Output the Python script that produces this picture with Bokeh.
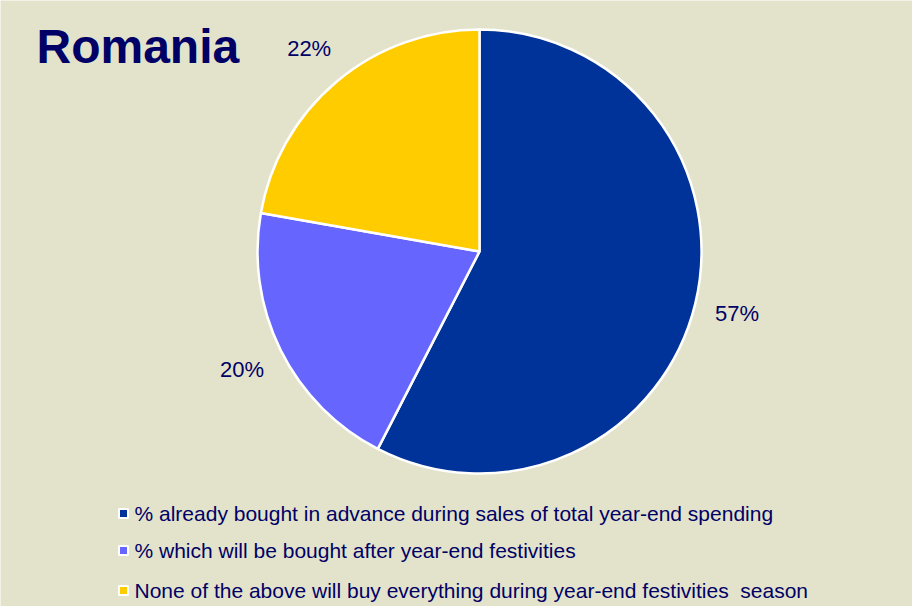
import math
from bokeh.plotting import figure
from bokeh.models import Range1d, ColumnDataSource
from bokeh.core.properties import value
from bokeh.embed import file_html
from bokeh.resources import INLINE

title = "Romania"
categories = [
    "% already bought in advance during sales of total year-end spending",
    "% which will be bought after year-end festivities",
    "None of the above will buy everything during year-end festivities\u00a0 season",
]
values = [57, 20, 22]
labels = ["57%", "20%", "22%"]
colors = ["#003399", "#6666FF", "#FFCC00"]

W, H = 912, 606
BG = "#E3E3CB"
TXT = "#000066"

p = figure(width=W, height=H, output_backend="svg", toolbar_location=None,
           x_range=Range1d(0, W), y_range=Range1d(0, H), min_border=0,
           background_fill_color=BG, border_fill_color=BG, outline_line_color=None)
p.axis.visible = False
p.grid.visible = False

# page coords -> data coords (figure at page offset 8,8)
def px(x):
    return x - 8
def py(y):
    return H - (y - 8)

cx, cy, r = px(487), py(259), 222
total = sum(values)
starts, ends, mids = [], [], []
cum = 0
for v in values:
    a0 = math.pi / 2 - 2 * math.pi * cum / total
    cum += v
    a1 = math.pi / 2 - 2 * math.pi * cum / total
    starts.append(a0)
    ends.append(a1)
    mids.append((a0 + a1) / 2)

src = ColumnDataSource(dict(start=starts, end=ends, color=colors))
p.wedge(x=cx, y=cy, radius=r, start_angle="start", end_angle="end",
        direction="clock", fill_color="color", line_color="white",
        line_width=2.5, source=src)

lr = 265
lx = [cx + lr * math.cos(m) for m in mids]
ly = [cy + lr * math.sin(m) for m in mids]
p.text(x=lx, y=ly, text=labels, text_align="center", text_baseline="middle",
       text_font=value("Liberation Sans"), text_font_size="22px", text_color=TXT)

p.text(x=[px(44)], y=[py(54)], text=[title], text_align="left", text_baseline="middle",
       text_font=value("Liberation Sans"), text_font_style="bold",
       text_font_size="48px", text_color=TXT)

ley = [py(521), py(558), py(598)]
p.scatter(x=[px(131)] * 3, y=ley, marker="square", size=9, fill_color=colors,
          line_color="white", line_width=2)
p.text(x=[px(142)] * 3, y=ley, text=categories, text_align="left",
       text_baseline="middle", text_font=value("Liberation Sans"),
       text_font_size="21px", text_color=TXT)

open("out.html", "w").write(file_html(p, INLINE))
